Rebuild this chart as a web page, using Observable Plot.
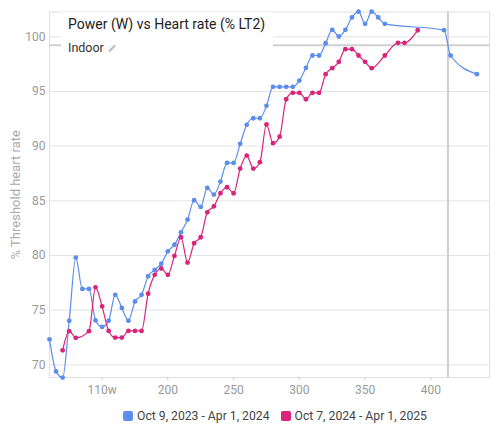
<!DOCTYPE html>
<html>
<head>
<meta charset="utf-8">
<script src="https://cdn.jsdelivr.net/npm/d3@7"></script>
<script src="https://cdn.jsdelivr.net/npm/@observablehq/plot@0.6"></script>
<style>
  body { margin: 0; background: #fff; font-family: Roboto, "Liberation Sans", Arial, sans-serif; }
  #wrap { position: relative; width: 500px; }
  #titlebox { position: absolute; left: 61px; top: 12px; width: 212px; height: 46px; background: #fff; }
  #title { position: absolute; left: 7px; top: 4px; font-size: 14px; color: #222; white-space: nowrap; }
  #sub { position: absolute; left: 7px; top: 28px; font-size: 12.5px; color: #333; white-space: nowrap; }
  #legend { display: flex; justify-content: center; gap: 11px; font-size: 12.2px; color: #444; margin-top: 7px; padding-left: 50px; }
  .item { display: flex; align-items: center; gap: 4px; }
  .sw { width: 10px; height: 10px; border-radius: 2px; display: inline-block; }
</style>
</head>
<body>
<div id="wrap">
  <div id="chart"></div>
  <div id="titlebox">
    <div id="title">Power (W) vs Heart rate (% LT2)</div>
    <div id="sub">Indoor <svg width="10" height="10" style="vertical-align:-1px"><path d="M1.5 9 L2 7 L7.5 1.5 L9 3 L3.5 8.5 Z" fill="#bbb"/></svg></div>
  </div>
  <div id="legend"></div>
</div>
<script>
const seriesNames = ["Oct 9, 2023 - Apr 1, 2024", "Oct 7, 2024 - Apr 1, 2025"];
const seriesColors = ["#5b8dee", "#d8247a"];

const blueWatts = [110,115,120,125,130,135,140,145,150,155,160,165,170,175,180,185,190,195,200,205,210,215,220,225,230,235,240,245,250,255,260,265,270,275,280,285,290,295,300,305,310,315,320,325,330,335,340,345,350,355,360,365,410,415,435];
const blueHr = [72.33,69.4,68.83,74.04,79.81,76.94,76.94,74.07,73.47,74.04,76.4,75.2,74.04,75.8,76.4,78.1,78.68,79.25,80.38,80.98,82.12,83.28,85.05,84.44,86.18,85.57,86.76,88.47,88.47,90.21,91.95,92.55,92.55,93.69,95.43,95.43,95.43,95.43,96.0,97.16,98.29,98.29,99.41,100.64,100.03,100.64,101.77,102.3,101.19,102.3,101.77,101.19,100.61,98.29,96.58];

const redWatts = [120,125,130,140,145,150,155,160,165,170,175,180,185,190,195,200,205,210,215,220,225,230,235,240,245,250,255,260,265,270,275,280,285,290,295,300,305,310,315,320,325,330,335,340,345,350,355,365,375,380,390];
const redHr = [71.33,73.08,72.47,73.08,77.09,75.35,73.1,72.49,72.49,73.1,73.1,73.1,76.51,78.23,78.81,78.23,79.96,81.67,79.35,81.12,81.67,83.95,84.5,85.69,86.24,85.69,87.95,89.14,87.95,88.53,91.98,90.27,90.87,94.29,94.88,94.88,94.29,94.88,94.88,96.58,97.13,97.71,98.87,98.87,98.29,97.71,97.13,98.29,99.45,99.45,100.6];

const xTicks = [150,200,250,300,350,400];
const xTickLabels = ["110w","200","250","300","350","400"];
const yTicks = [70,75,80,85,90,95,100];
const thresholdHr = [99.23];
const thresholdWatts = [413];

const blue = blueWatts.map((w,i) => ({w, hr: blueHr[i]}));
const red = redWatts.map((w,i) => ({w, hr: redHr[i]}));

const chart = Plot.plot({
  width: 500,
  height: 402,
  marginTop: 11.5,
  marginBottom: 25,
  marginLeft: 49,
  marginRight: 11,
  style: {fontFamily: "Roboto, 'Liberation Sans', Arial, sans-serif", fontSize: "12px", color: "#999", background: "#fff"},
  x: {domain: [110, 444.6], ticks: xTicks, tickFormat: d => xTickLabels[xTicks.indexOf(d)], tickSize: 3, tickPadding: 4, label: null},
  y: {domain: [68.84, 102.27], ticks: yTicks, tickSize: 0, tickPadding: 4, label: "% Threshold heart rate", labelAnchor: "center", labelArrow: "none", labelOffset: 39},
  marks: [
    Plot.gridY(yTicks, {stroke: "#e3e3e3", strokeOpacity: 1}),
    Plot.frame({stroke: "#e0e0e0"}),
    Plot.ruleY(thresholdHr, {stroke: "#d0d0d0", strokeWidth: 2}),
    Plot.ruleX(thresholdWatts, {stroke: "#d0d0d0", strokeWidth: 2}),
    Plot.axisX({ticks: xTicks, tickFormat: d => xTickLabels[xTicks.indexOf(d)], tickSize: 3, tickPadding: 5, stroke: "#ccc", fill: "#999", label: null}),
    Plot.axisY({ticks: yTicks, tickSize: 0, tickPadding: 4, fill: "#999", label: "% Threshold heart rate", labelAnchor: "center", labelArrow: "none", labelOffset: 39}),
    Plot.line(blue, {x: "w", y: "hr", curve: "monotone-x", stroke: seriesColors[0], strokeWidth: 1.2}),
    Plot.dot(blue, {x: "w", y: "hr", r: 2.4, fill: seriesColors[0]}),
    Plot.line(red, {x: "w", y: "hr", curve: "monotone-x", stroke: seriesColors[1], strokeWidth: 1.2}),
    Plot.dot(red, {x: "w", y: "hr", r: 2.4, fill: seriesColors[1]})
  ]
});
chart.querySelectorAll("text").forEach(t => { if (t.textContent.includes("Threshold")) { t.setAttribute("font-size", "13"); t.setAttribute("fill", "#aaa"); } });
document.getElementById("chart").appendChild(chart);

const legend = document.getElementById("legend");
seriesNames.forEach((n, i) => {
  const it = document.createElement("div");
  it.className = "item";
  it.innerHTML = `<span class="sw" style="background:${seriesColors[i]}"></span><span>${n}</span>`;
  legend.appendChild(it);
});
</script>
</body>
</html>
